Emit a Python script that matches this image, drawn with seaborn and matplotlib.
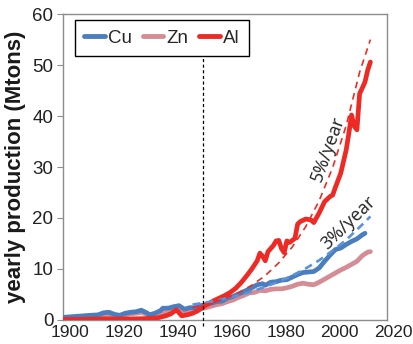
import numpy as np
import pandas as pd
import matplotlib
matplotlib.use("Agg")
import matplotlib.pyplot as plt
import matplotlib.transforms as mtransforms
import seaborn as sns

# ---- data ----
al_years = [1900, 1905, 1910, 1915, 1920, 1925, 1930, 1935, 1938, 1940, 1942, 1943, 1944, 1946, 1948,
            1950, 1952, 1954, 1956, 1958, 1960, 1962, 1964, 1966, 1968, 1970, 1972, 1973, 1974, 1975,
            1976, 1978, 1979, 1980, 1981, 1982, 1983, 1984, 1986, 1987, 1988, 1990, 1992, 1993, 1995,
            1997, 1999, 2000, 2001, 2003, 2005, 2006, 2007, 2008, 2009, 2010, 2011, 2012, 2013, 2014]
al_vals = [0.1, 0.1, 0.15, 0.2, 0.2, 0.2, 0.25, 0.4, 0.8, 1.2, 2.0, 1.4, 0.8, 1.0, 1.3,
           1.8, 2.6, 3.2, 3.8, 4.3, 4.8, 5.4, 6.2, 7.3, 8.6, 10.0, 11.6, 13.1, 12.5, 11.6,
           13.4, 14.6, 15.5, 15.6, 14.0, 13.2, 15.5, 15.2, 16.0, 18.8, 19.3, 19.8, 19.6, 19.1, 21.0,
           23.2, 24.2, 24.5, 26.0, 28.8, 33.3, 36.6, 40.2, 38.0, 37.3, 44.4, 45.5, 46.7, 49.0, 50.6]

cu_years = [1900, 1905, 1910, 1913, 1915, 1917, 1919, 1921, 1923, 1925, 1927, 1929, 1931, 1932, 1934,
            1936, 1937, 1939, 1941, 1943, 1945, 1947, 1949, 1951, 1953, 1955, 1957, 1959, 1961, 1963,
            1966, 1968, 1970, 1972, 1974, 1975, 1977, 1979, 1981, 1983, 1985, 1987, 1989, 1991, 1993,
            1995, 1997, 1999, 2001, 2003, 2005, 2007, 2009, 2011, 2012]
cu_vals = [0.5, 0.7, 0.9, 1.0, 1.4, 1.5, 1.1, 0.9, 1.3, 1.5, 1.6, 1.9, 1.4, 1.0, 1.3,
           1.8, 2.3, 2.3, 2.6, 2.8, 2.1, 2.4, 2.4, 2.8, 3.0, 3.3, 3.6, 3.7, 4.3, 4.6,
           5.3, 5.8, 6.3, 6.9, 7.1, 6.8, 7.4, 7.5, 7.8, 7.9, 8.4, 8.9, 9.3, 9.4, 9.5,
           10.2, 11.5, 12.7, 13.8, 14.1, 14.8, 15.4, 15.9, 16.7, 17.0]

zn_years = [1900, 1905, 1910, 1913, 1915, 1917, 1919, 1921, 1923, 1925, 1927, 1929, 1931, 1932, 1934,
            1936, 1937, 1939, 1941, 1943, 1945, 1947, 1949, 1951, 1953, 1955, 1957, 1959, 1961, 1963,
            1965, 1967, 1969, 1971, 1973, 1975, 1977, 1979, 1981, 1983, 1985, 1987, 1989, 1991, 1993,
            1995, 1997, 1999, 2001, 2003, 2005, 2007, 2009, 2011, 2013, 2014]
zn_vals = [0.4, 0.6, 0.8, 0.9, 0.9, 1.0, 0.7, 0.6, 1.0, 1.2, 1.3, 1.5, 1.1, 0.9, 1.1,
           1.4, 1.6, 1.7, 1.9, 1.8, 1.3, 1.6, 1.9, 2.2, 2.4, 2.7, 3.0, 3.2, 3.6, 3.9,
           4.4, 4.8, 5.3, 5.4, 5.8, 5.7, 6.0, 6.1, 6.1, 6.3, 6.6, 7.0, 7.2, 7.0, 6.9,
           7.4, 8.0, 8.6, 9.2, 9.8, 10.3, 10.9, 11.5, 12.6, 13.3, 13.4]

trend5_years = [1948, 1955, 1960, 1965, 1970, 1975, 1980, 1985, 1990, 1995, 2000, 2005, 2010, 2014]
trend5_vals = [2.4, 3.3, 4.2, 5.3, 6.8, 8.7, 11.2, 14.3, 18.3, 23.4, 29.9, 38.1, 48.6, 55.0]
trend3_years = [1948, 1955, 1960, 1965, 1970, 1975, 1980, 1985, 1990, 1995, 2000, 2005, 2010, 2014]
trend3_vals = [3.0, 3.6, 4.2, 4.8, 5.6, 6.5, 7.5, 8.7, 10.1, 11.7, 13.6, 15.7, 18.2, 20.3]

x_ticks = [1900, 1920, 1940, 1960, 1980, 2000, 2020]
y_ticks = [0, 10, 20, 30, 40, 50, 60]
divider_year = 1952

# ---- styling ----
sns.set_theme(style="white")
plt.rcParams['font.family'] = ['Liberation Sans', 'DejaVu Sans']

C_CU = "#4a7ebf"
C_ZN = "#d58c94"
C_AL = "#ee2a24"

fig = plt.figure(figsize=(4.13, 3.44), dpi=100)
ax = fig.add_axes([0.153, 0.070, 0.783, 0.889])

df_zn = pd.DataFrame({"year": zn_years, "val": zn_vals})
df_cu = pd.DataFrame({"year": cu_years, "val": cu_vals})
df_al = pd.DataFrame({"year": al_years, "val": al_vals})
df_t5 = pd.DataFrame({"year": trend5_years, "val": trend5_vals})
df_t3 = pd.DataFrame({"year": trend3_years, "val": trend3_vals})

sns.lineplot(data=df_zn, x="year", y="val", ax=ax, color=C_ZN, lw=3.4, label="Zn",
             solid_capstyle="round", zorder=2)
sns.lineplot(data=df_cu, x="year", y="val", ax=ax, color=C_CU, lw=3.4, label="Cu",
             solid_capstyle="round", zorder=3)
sns.lineplot(data=df_al, x="year", y="val", ax=ax, color=C_AL, lw=3.4, label="Al",
             solid_capstyle="round", zorder=4)
sns.lineplot(data=df_t3, x="year", y="val", ax=ax, color="#5b93d6", lw=1.9,
             linestyle=(0, (3, 2)), zorder=5, legend=False)
sns.lineplot(data=df_t5, x="year", y="val", ax=ax, color=C_AL, lw=1.2,
             linestyle=(0, (4, 3)), zorder=5, legend=False)

ax.plot([divider_year, divider_year], [-1.2, 51.6], color="black", lw=0.9,
        linestyle=(0, (2.5, 2)), clip_on=False, zorder=6)

ax.set_xlim(1900, 2020)
ax.set_ylim(0, 60)
ax.set_xticks(x_ticks)
ax.set_yticks(y_ticks)
ax.set_xlabel("")
ax.set_ylabel("yearly production (Mtons)", fontsize=16, fontweight="bold",
              color="#1a1a1a", labelpad=5)

for s in ax.spines.values():
    s.set_color("#8c8c8c")
    s.set_linewidth(1.0)
ax.tick_params(axis="y", which="major", left=True, length=4, width=0.8,
               color="#8c8c8c", labelsize=13.5, labelcolor="#222222", pad=3)
ax.tick_params(axis="x", which="major", bottom=False, length=0,
               labelsize=12.5, labelcolor="#222222", pad=3.5)

shift = mtransforms.ScaledTranslation(7 / 100, 0, fig.dpi_scale_trans)
for lab in ax.get_xticklabels():
    lab.set_transform(lab.get_transform() + shift)

ax.text(1998.2, 33.5, "5%/year", rotation=70, ha="center", va="center",
        fontsize=13, family="Open Sans", color="#222222", zorder=7)
ax.text(2006, 19.0, "3%/year", rotation=44, ha="center", va="center",
        fontsize=13, family="Open Sans", color="#222222", zorder=7)

handles, labels = ax.get_legend_handles_labels()
order = [labels.index(l) for l in ["Cu", "Zn", "Al"]]
leg = ax.legend([handles[i] for i in order], [labels[i] for i in order],
                loc="upper left", bbox_to_anchor=(0.036, 0.98), ncol=3,
                fontsize=13.5, frameon=True, fancybox=False, framealpha=1,
                edgecolor="black", handlelength=1.1, handletextpad=0.15,
                columnspacing=0.6, borderpad=0.5, borderaxespad=0)
leg.get_frame().set_linewidth(1.0)
for line in leg.get_lines():
    line.set_linewidth(3.5)

fig.savefig("out.png", dpi=100)
